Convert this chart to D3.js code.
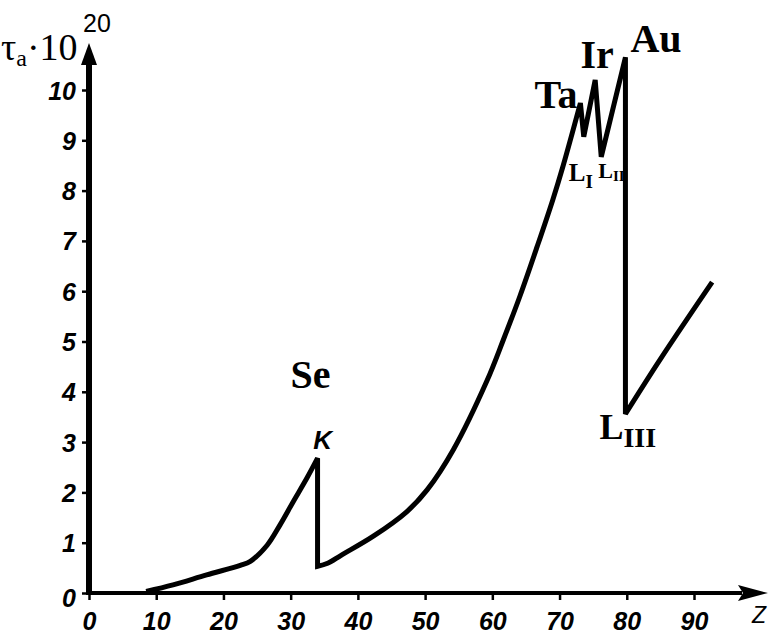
<!DOCTYPE html>
<html>
<head>
<meta charset="utf-8">
<script src="https://cdn.jsdelivr.net/npm/d3@7"></script>
<style>
  html, body { margin: 0; padding: 0; background: #fff; }
  svg { display: block; }
</style>
</head>
<body>
<svg id="chart" width="774" height="635"></svg>
<script>
// Atomic number Z and absorption coefficient tau_a (units of 1e-20)
const zValues   = [8.5, 12.5, 17.5, 22.5, 24, 26.5, 28.4, 30.4, 32.4, 34,
                   34, 35.5, 37.5, 42.3, 47.3, 50.3, 54.2, 59.2, 61.6, 64.1,
                   66.7, 69, 70.5, 73.1, 73.6, 75.3, 76.2, 79.8, 79.8, 85, 92.7];
const tauValues = [0.03, 0.16, 0.36, 0.55, 0.63, 0.95, 1.35, 1.82, 2.28, 2.68,
                   0.53, 0.59, 0.75, 1.13, 1.62, 2.05, 2.85, 4.22, 5.02, 5.9,
                   6.9, 7.82, 8.48, 9.74, 9.07, 10.2, 8.67, 10.65, 3.56, 4.65, 6.18];

const xTicks = [0, 10, 20, 30, 40, 50, 60, 70, 80, 90];
const yTicks = [0, 1, 2, 3, 4, 5, 6, 7, 8, 9, 10];

// Absorption edges: element, Z, tau at the top of the jump
const edgeElements = ["Se", "Ta", "Ir", "Au"];
const edgeZ        = [34, 73.1, 75.3, 79.8];
const edgeTau      = [2.68, 9.74, 10.2, 10.65];

const svg = d3.select("#chart");
svg.append("rect").attr("width", 774).attr("height", 635).attr("fill", "#fff");

const x = d3.scaleLinear().domain([0, 90]).range([89, 694]);
const y = d3.scaleLinear().domain([0, 10]).range([593, 90]);

const tickFont = "'Liberation Sans', Arial, sans-serif";
const serif = "'Liberation Serif', 'Times New Roman', serif";

// X axis
const xAxis = svg.append("g")
  .attr("transform", `translate(0,${y(0)})`)
  .call(d3.axisBottom(x).tickValues(xTicks).tickSize(7).tickPadding(12).tickFormat(d3.format("d")));
xAxis.select(".domain").remove();
xAxis.selectAll(".tick line").attr("stroke", "#000").attr("stroke-width", 2.5);
xAxis.selectAll(".tick text")
  .attr("font-family", tickFont).attr("font-size", 25)
  .attr("font-weight", "bold").attr("font-style", "italic").attr("fill", "#000");

// Y axis
const yAxis = svg.append("g")
  .attr("transform", `translate(${x(0)},0)`)
  .call(d3.axisLeft(y).tickValues(yTicks).tickSize(7).tickPadding(6).tickFormat(d3.format("d")));
yAxis.select(".domain").remove();
yAxis.selectAll(".tick line").attr("stroke", "#000").attr("stroke-width", 2.5);
yAxis.selectAll(".tick text")
  .attr("font-family", tickFont).attr("font-size", 25)
  .attr("font-weight", "bold").attr("font-style", "italic").attr("fill", "#000")
  .attr("dy", "0.36em");
yAxis.selectAll(".tick").filter(d => d === 0).select("text").attr("dy", "0.55em");

// Axis lines with arrowheads
svg.append("line")
  .attr("x1", x(0) - 3).attr("x2", 742)
  .attr("y1", y(0)).attr("y2", y(0))
  .attr("stroke", "#000").attr("stroke-width", 4);
svg.append("path")
  .attr("d", `M768,${y(0)} L738,${y(0) - 8} L743,${y(0)} L738,${y(0) + 8} Z`)
  .attr("fill", "#000");
svg.append("line")
  .attr("x1", x(0)).attr("x2", x(0))
  .attr("y1", y(0) + 2).attr("y2", 60)
  .attr("stroke", "#000").attr("stroke-width", 6);
svg.append("path")
  .attr("d", `M${x(0)},43 L${x(0) - 8},65 L${x(0) + 8},65 Z`)
  .attr("fill", "#000");

// Axis titles
const yTitle = svg.append("text")
  .attr("x", 1).attr("y", 60)
  .attr("font-family", serif).attr("font-size", 38).attr("fill", "#000");
yTitle.append("tspan").text("τ");
yTitle.append("tspan").attr("font-size", 24).attr("dy", 6).text("a");
yTitle.append("tspan").attr("dy", -6).text("·10");
svg.append("text")
  .attr("x", 83).attr("y", 32)
  .attr("font-family", tickFont).attr("font-size", 25).attr("fill", "#000")
  .text("20");
svg.append("text")
  .attr("x", 759).attr("y", 623).attr("text-anchor", "middle")
  .attr("font-family", tickFont).attr("font-size", 23).attr("font-style", "italic")
  .attr("fill", "#000").text("Z");

// Curve: split into branches at each absorption edge, joined by the jumps
const pts = zValues.map((z, i) => [z, tauValues[i]]);
const branches = [];
let cur = [pts[0]];
for (let i = 1; i < pts.length; i++) {
  if (pts[i][1] < pts[i - 1][1]) { branches.push(cur); cur = [pts[i]]; }
  else cur.push(pts[i]);
}
branches.push(cur);

const line = d3.line()
  .x(d => x(d[0])).y(d => y(d[1]))
  .curve(d3.curveCatmullRom.alpha(0.5));
const pathD = branches
  .map(b => (b.length > 1 ? line(b) : `M${x(b[0][0])},${y(b[0][1])}`))
  .map((s, i) => (i ? s.replace(/^M/, "L") : s))
  .join("");
svg.append("path")
  .attr("d", pathD)
  .attr("fill", "none").attr("stroke", "#000")
  .attr("stroke-width", 5).attr("stroke-linejoin", "miter").attr("stroke-miterlimit", 3);

// Element labels at the edges
const elemOffsets = { Se: [-7, -70, "middle"], Ta: [-3, 5, "end"], Ir: [2, -12, "middle"], Au: [5, -5, "start"] };
edgeElements.forEach((name, i) => {
  const o = elemOffsets[name];
  svg.append("text")
    .attr("x", x(edgeZ[i]) + o[0]).attr("y", y(edgeTau[i]) + o[1])
    .attr("text-anchor", o[2])
    .attr("font-family", serif).attr("font-size", 40).attr("font-weight", "bold")
    .attr("fill", "#000").text(name);
});

// K edge marker
svg.append("text")
  .attr("x", x(edgeZ[0]) + 5).attr("y", y(edgeTau[0]) - 9)
  .attr("text-anchor", "middle")
  .attr("font-family", tickFont).attr("font-size", 26)
  .attr("font-weight", "bold").attr("font-style", "italic")
  .attr("fill", "#000").text("K");

// L sub-shell edge labels
function edgeLabel(px, py, sub, size, subSize, subDy) {
  const t = svg.append("text")
    .attr("x", px).attr("y", py)
    .attr("font-family", serif).attr("font-weight", "bold")
    .attr("font-size", size).attr("fill", "#000");
  t.append("tspan").text("L");
  t.append("tspan").attr("font-size", subSize).attr("dy", subDy).text(sub);
}
edgeLabel(x(73.6) - 15, y(9.07) + 44, "I", 25, 19, 7);
edgeLabel(x(76.2) - 3, y(8.67) + 21, "II", 22, 15, 3);
edgeLabel(x(79.8) - 26, y(3.56) + 25, "III", 36, 28, 8);
</script>
</body>
</html>
